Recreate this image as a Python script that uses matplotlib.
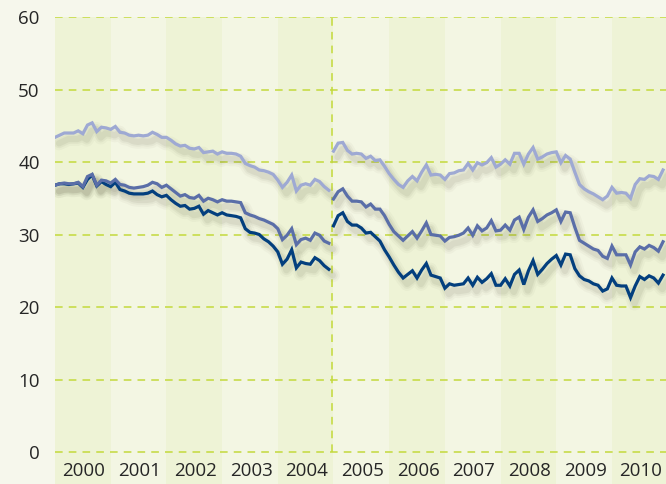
import numpy as np
import matplotlib
matplotlib.use("Agg")
import matplotlib.pyplot as plt
from matplotlib.transforms import offset_copy

# -- Data (monthly) --
years = list(range(2000, 2011))
y_ticks = [0, 10, 20, 30, 40, 50, 60]

# Jan 2000 - Dec 2004
light_a = [43.4, 43.7, 44.0, 44.0, 44.0, 44.3, 43.9, 45.1, 45.4, 44.2, 44.8, 44.7,
           44.5, 44.9, 44.1, 44.0, 43.7, 43.6, 43.7, 43.6, 43.7, 44.1, 43.8, 43.4,
           43.4, 43.0, 42.5, 42.2, 42.3, 41.9, 41.8, 42.0, 41.3, 41.4, 41.5, 41.1,
           41.4, 41.2, 41.2, 41.1, 40.8, 39.8, 39.5, 39.3, 38.9, 38.8, 38.6, 38.3,
           37.5, 36.5, 37.2, 38.2, 36.0, 36.8, 37.0, 36.8, 37.6, 37.3, 36.6, 36.1]
medium_a = [36.8, 37.0, 37.1, 37.0, 37.0, 37.2, 36.6, 38.0, 38.3, 36.8, 37.5, 37.4,
            37.1, 37.6, 36.9, 36.8, 36.5, 36.4, 36.5, 36.6, 36.8, 37.2, 37.0, 36.5,
            36.8, 36.3, 35.8, 35.3, 35.5, 35.1, 35.0, 35.4, 34.6, 35.0, 34.8, 34.5,
            34.8, 34.6, 34.6, 34.5, 34.4, 33.0, 32.7, 32.5, 32.2, 32.0, 31.7, 31.4,
            30.8, 29.3, 29.9, 30.8, 28.6, 29.3, 29.5, 29.2, 30.2, 29.9, 29.1, 28.8]
dark_a = [36.8, 37.0, 37.0, 36.9, 37.0, 37.1, 36.5, 37.6, 38.2, 36.7, 37.3, 36.9,
          36.6, 37.2, 36.2, 36.0, 35.7, 35.6, 35.6, 35.6, 35.7, 36.0, 35.5, 35.2,
          35.4, 34.8, 34.3, 33.9, 34.0, 33.5, 33.6, 33.9, 32.8, 33.3, 33.0, 32.7,
          33.0, 32.7, 32.6, 32.5, 32.3, 30.8, 30.3, 30.2, 30.0, 29.4, 29.0, 28.4,
          27.6, 25.9, 26.6, 27.9, 25.4, 26.2, 26.0, 25.9, 26.8, 26.4, 25.7, 25.2]

# Jan 2005 - Dec 2010
light_b = [41.5, 42.6, 42.7, 41.6, 41.1, 41.2, 41.1, 40.5, 40.8, 40.2, 40.3, 39.4,
           38.4, 37.6, 36.9, 36.5, 37.4, 38.0, 37.4, 38.6, 39.6, 38.2, 38.3, 38.2,
           37.6, 38.4, 38.5, 38.8, 38.9, 39.8, 38.9, 39.9, 39.6, 39.9, 40.6, 39.3,
           39.7, 40.3, 39.7, 41.2, 41.2, 39.7, 41.1, 42.0, 40.4, 40.7, 41.1, 41.3,
           41.4, 39.9, 40.9, 40.4, 38.6, 36.9, 36.3, 35.9, 35.6, 35.2, 34.8, 35.3,
           36.5, 35.7, 35.8, 35.7, 35.0, 36.9, 37.7, 37.6, 38.1, 38.0, 37.6, 38.9]
medium_b = [34.9, 35.9, 36.3, 35.3, 34.6, 34.6, 34.5, 33.8, 34.2, 33.5, 33.5, 32.6,
            31.4, 30.4, 29.8, 29.2, 29.8, 30.4, 29.5, 30.5, 31.6, 30.0, 29.9, 29.8,
            29.1, 29.6, 29.7, 29.9, 30.2, 30.9, 29.9, 31.2, 30.5, 30.9, 31.9, 30.5,
            30.6, 31.3, 30.6, 32.0, 32.4, 30.7, 32.4, 33.4, 31.8, 32.2, 32.7, 33.0,
            33.4, 31.8, 33.1, 33.0, 31.0, 29.2, 28.8, 28.4, 28.0, 27.8, 27.0, 26.7,
            28.4, 27.2, 27.2, 27.2, 25.8, 27.6, 28.3, 28.0, 28.5, 28.2, 27.7, 29.0]
dark_b = [31.2, 32.6, 33.0, 31.8, 31.3, 31.3, 30.9, 30.2, 30.3, 29.7, 29.1, 27.9,
          26.9, 25.8, 24.8, 24.0, 24.5, 25.0, 24.0, 25.1, 26.0, 24.4, 24.2, 24.0,
          22.6, 23.2, 23.0, 23.1, 23.2, 24.0, 23.0, 24.1, 23.4, 23.9, 24.6, 23.0,
          23.0, 23.9, 22.9, 24.5, 25.1, 23.1, 25.0, 26.4, 24.5, 25.2, 26.0, 26.6,
          27.1, 25.8, 27.3, 27.2, 25.3, 24.3, 23.8, 23.6, 23.2, 23.0, 22.2, 22.5,
          24.0, 23.0, 22.9, 22.9, 21.3, 22.9, 24.2, 23.8, 24.3, 24.0, 23.3, 24.4]

x_a = 2000 + np.arange(len(light_a)) / 12
x_b = 2005 + np.arange(len(light_b)) / 12

# -- Colours --
bg = '#f6f7ec'
band_dark = '#eef3d6'
band_light = '#f3f6e3'
grid_col = '#c3d93c'
c_light, c_medium, c_dark = '#9ea9d3', '#5a6ea8', '#033f7e'

plt.rcParams['font.family'] = ['Open Sans', 'DejaVu Sans']

fig = plt.figure(figsize=(6.66, 4.84), dpi=100, facecolor=bg)
ax = fig.add_axes([55 / 666, 0, 1 - 55 / 666, 1 - 17 / 484])
ax.set_facecolor(bg)
ax.set_xlim(2000, 2010.97)
ax.set_ylim(-4.41, 60)

# year bands
for i, yr in enumerate(years):
    ax.axvspan(yr, yr + 1, color=band_dark if i % 2 == 0 else band_light, lw=0, zorder=0)

# grid
for v in y_ticks:
    ax.axhline(v, color=grid_col, lw=1.1, ls=(0, (5, 4)), zorder=1)
ax.vlines(2004.965, 0, 60, color=grid_col, lw=1.1, ls=(0, (5, 4)), zorder=1)

# soft shadows
shadow_tr = offset_copy(ax.transData, fig=fig, x=4, y=-6, units='dots')
for xs, series in [(x_a, light_a), (x_a, medium_a), (x_a, dark_a),
                   (x_b, light_b), (x_b, medium_b), (x_b, dark_b)]:
    for lw, a in [(10, 0.035), (7, 0.05), (4.5, 0.07)]:
        ax.plot(xs, series, color='#4a4a30', lw=lw, alpha=a, transform=shadow_tr,
                solid_capstyle='round', solid_joinstyle='round', zorder=2)

# lines
for xs, series, col in [(x_a, light_a, c_light), (x_a, dark_a, c_dark), (x_a, medium_a, c_medium),
                        (x_b, light_b, c_light), (x_b, dark_b, c_dark), (x_b, medium_b, c_medium)]:
    ax.plot(xs, series, color=col, lw=2.3, solid_joinstyle='miter', zorder=3)

# axis labels
ax.set_xticks([])
ax.set_yticks(y_ticks)
ax.set_yticklabels([str(v) for v in y_ticks], fontsize=13.5, color='#262626')
ax.tick_params(axis='y', length=0, pad=11)
for s in ax.spines.values():
    s.set_visible(False)
for yr in years:
    ax.text(yr + 0.52, -2.6, str(yr), ha='center', va='center', fontsize=13.5, color='#262626')

fig.savefig('out.png', dpi=100, facecolor=bg)
